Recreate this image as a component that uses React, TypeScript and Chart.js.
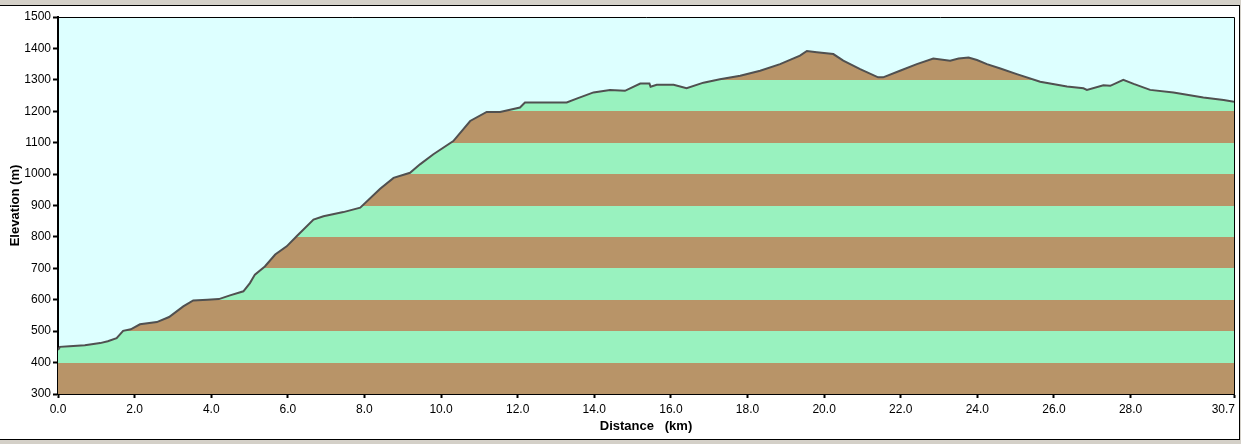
import React, { useEffect, useRef } from "react";
import { Chart, registerables } from "chart.js";

Chart.register(...registerables);

const distancesKm = [
  0, 0.05, 0.3, 0.7, 1.1, 1.3, 1.53, 1.7, 1.9, 2.14, 2.58, 2.9, 3.27, 3.53, 3.9, 4.2, 4.49, 4.84, 5.01,
  5.14, 5.4, 5.67, 5.97, 6.23, 6.67, 6.93, 7.45, 7.89, 8.41, 8.76, 9.19, 9.45, 9.8, 10.32, 10.76, 11.19,
  11.54, 12.06, 12.19, 13.28, 13.54, 13.98, 14.41, 14.8, 15.2, 15.44, 15.47, 15.63, 16.07, 16.41, 16.85,
  17.28, 17.81, 18.33, 18.85, 19.37, 19.55, 19.81, 20.24, 20.5, 20.94, 21.41, 21.54, 21.98, 22.42, 22.85,
  23.29, 23.51, 23.77, 23.99, 24.25, 24.6, 25.03, 25.64, 26.34, 26.77, 26.86, 27.29, 27.47, 27.81, 28.08,
  28.51, 29.12, 29.9, 30.43, 30.7,
];

const elevationsM = [
  440, 450, 452, 455, 462, 468, 478, 501, 506, 522, 529, 545, 579, 598, 600, 602, 614, 627, 653, 680, 706,
  744, 770, 802, 855, 866, 879, 893, 953, 988, 1004, 1031, 1063, 1105, 1169, 1198, 1198, 1212, 1228, 1228,
  1240, 1260, 1268, 1265, 1288, 1288, 1278, 1284, 1284, 1273, 1291, 1302, 1313, 1329, 1350, 1377, 1392,
  1388, 1382, 1361, 1334, 1308, 1308, 1329, 1350, 1368, 1361, 1368, 1371, 1363, 1350, 1336, 1318, 1294,
  1279, 1273, 1268, 1283, 1281, 1300, 1287, 1268, 1260, 1244, 1236, 1230,
];

const xTickValues = [0, 2, 4, 6, 8, 10, 12, 14, 16, 18, 20, 22, 24, 26, 28, 30.7];
const yTickValues = [300, 400, 500, 600, 700, 800, 900, 1000, 1100, 1200, 1300, 1400, 1500];
const X_END = 30.7;

const BROWN = "#b89468";
const GREEN = "#99f2bf";
const SKY = "#ddffff";
const LINE = "#505050";
const TICK_FONT = "12px 'Liberation Sans'";
const X_TICK_LEN = 4;
const X_TICK_PAD = 4;

const frame = {
  id: "frame",
  beforeDraw(chart: any) {
    const { ctx, chartArea } = chart;
    ctx.save();
    ctx.fillStyle = SKY;
    ctx.fillRect(chartArea.left, chartArea.top, chartArea.right - chartArea.left, chartArea.bottom - chartArea.top);
    ctx.restore();
  },
  afterDraw(chart: any) {
    const { ctx, chartArea, scales } = chart;
    ctx.save();
    ctx.strokeStyle = "#000";
    ctx.lineWidth = 1;
    ctx.beginPath();
    ctx.moveTo(chartArea.left, chartArea.top + 0.5);
    ctx.lineTo(chartArea.right + 0.5, chartArea.top + 0.5);
    ctx.lineTo(chartArea.right + 0.5, chartArea.bottom);
    ctx.stroke();
    // last x label is right-aligned to its tick, on the same baseline as the others
    const xs = scales.x;
    let ty = xs.top + X_TICK_LEN + X_TICK_PAD;
    let baseline = "top";
    const items = xs.getLabelItems ? xs.getLabelItems(chartArea) : null;
    if (items && items.length) {
      ty = items[0].options.translation[1] + (items[0].textOffset || 0);
      baseline = items[0].options.textBaseline || "top";
    }
    ctx.fillStyle = "#000";
    ctx.font = TICK_FONT;
    ctx.textAlign = "right";
    ctx.textBaseline = baseline;
    ctx.fillText(X_END.toFixed(1), xs.getPixelForValue(X_END) + 1, ty);
    ctx.restore();
  },
};

export default function App() {
  const ref = useRef<HTMLCanvasElement | null>(null);

  useEffect(() => {
    if (!ref.current) return;
    const bandFill = (c: any) => {
      const chart = c.chart;
      const { chartArea, scales } = chart;
      if (!chartArea || !scales.y) return BROWN;
      const y = scales.y;
      const y0 = y.getPixelForValue(300);
      const y1 = y.getPixelForValue(1500);
      const g = chart.ctx.createLinearGradient(0, y0, 0, y1);
      for (let i = 0; i < 12; i++) {
        const col = i % 2 === 0 ? BROWN : GREEN;
        g.addColorStop(i / 12, col);
        g.addColorStop((i + 1) / 12 - 0.00001, col);
      }
      return g;
    };

    const chart = new Chart(ref.current, {
      type: "line",
      data: {
        datasets: [
          {
            data: distancesKm.map((d, i) => ({ x: d, y: elevationsM[i] })),
            borderColor: LINE,
            borderWidth: 2,
            pointRadius: 0,
            tension: 0,
            fill: "start",
            backgroundColor: bandFill,
          },
        ],
      },
      options: {
        animation: false,
        responsive: false,
        events: [],
        layout: { padding: { left: 0, top: 17, right: 7, bottom: 10 } },
        plugins: { legend: { display: false }, tooltip: { enabled: false } },
        scales: {
          x: {
            type: "linear",
            min: 0,
            max: X_END,
            afterBuildTicks: (s: any) => {
              s.ticks = xTickValues.map((v) => ({ value: v }));
            },
            afterFit: (s: any) => {
              s.height = 40;
              s.paddingLeft = 0;
              s.paddingRight = 0;
            },
            ticks: {
              autoSkip: false,
              maxRotation: 0,
              color: "#000",
              padding: X_TICK_PAD,
              font: { family: "Liberation Sans", size: 12 },
              callback: (v: any) => (Number(v) === X_END ? "" : Number(v).toFixed(1)),
            },
            grid: { drawOnChartArea: false, drawTicks: true, tickLength: X_TICK_LEN, tickWidth: 2, tickColor: "#000" },
            border: { display: true, color: "#000", width: 2 },
            title: {
              display: true,
              text: "Distance   (km)",
              color: "#000",
              font: { family: "Liberation Sans", size: 13, weight: "bold" },
              padding: { top: 0, bottom: 0 },
            },
          },
          y: {
            type: "linear",
            min: 300,
            max: 1500,
            afterBuildTicks: (s: any) => {
              s.ticks = yTickValues.map((v) => ({ value: v }));
            },
            afterFit: (s: any) => {
              s.width = 58;
              s.paddingTop = 0;
              s.paddingBottom = 0;
            },
            ticks: {
              autoSkip: false,
              color: "#000",
              padding: 2,
              font: { family: "Liberation Sans", size: 12 },
              callback: (v: any) => String(v),
            },
            grid: { drawOnChartArea: false, drawTicks: true, tickLength: 5, tickWidth: 2, tickColor: "#000" },
            border: { display: true, color: "#000", width: 2 },
            title: {
              display: true,
              text: "Elevation (m)",
              color: "#000",
              font: { family: "Liberation Sans", size: 13, weight: "bold" },
              padding: { top: 8, bottom: 0 },
            },
          },
        },
      },
      plugins: [frame],
    });
    return () => chart.destroy();
  }, []);

  return (
    <div style={{ position: "fixed", left: 0, top: 0, width: 1241, height: 444, background: "#d4d0c8" }}>
      <div
        style={{
          position: "absolute",
          left: 0,
          top: 5,
          width: 1239,
          height: 433,
          background: "#fff",
          borderTop: "1px solid #000",
          borderRight: "1px solid #000",
          borderBottom: "1px solid #000",
        }}
      />
      <canvas ref={ref} width={1241} height={444} style={{ position: "absolute", left: 0, top: 0, display: "block" }} />
    </div>
  );
}
